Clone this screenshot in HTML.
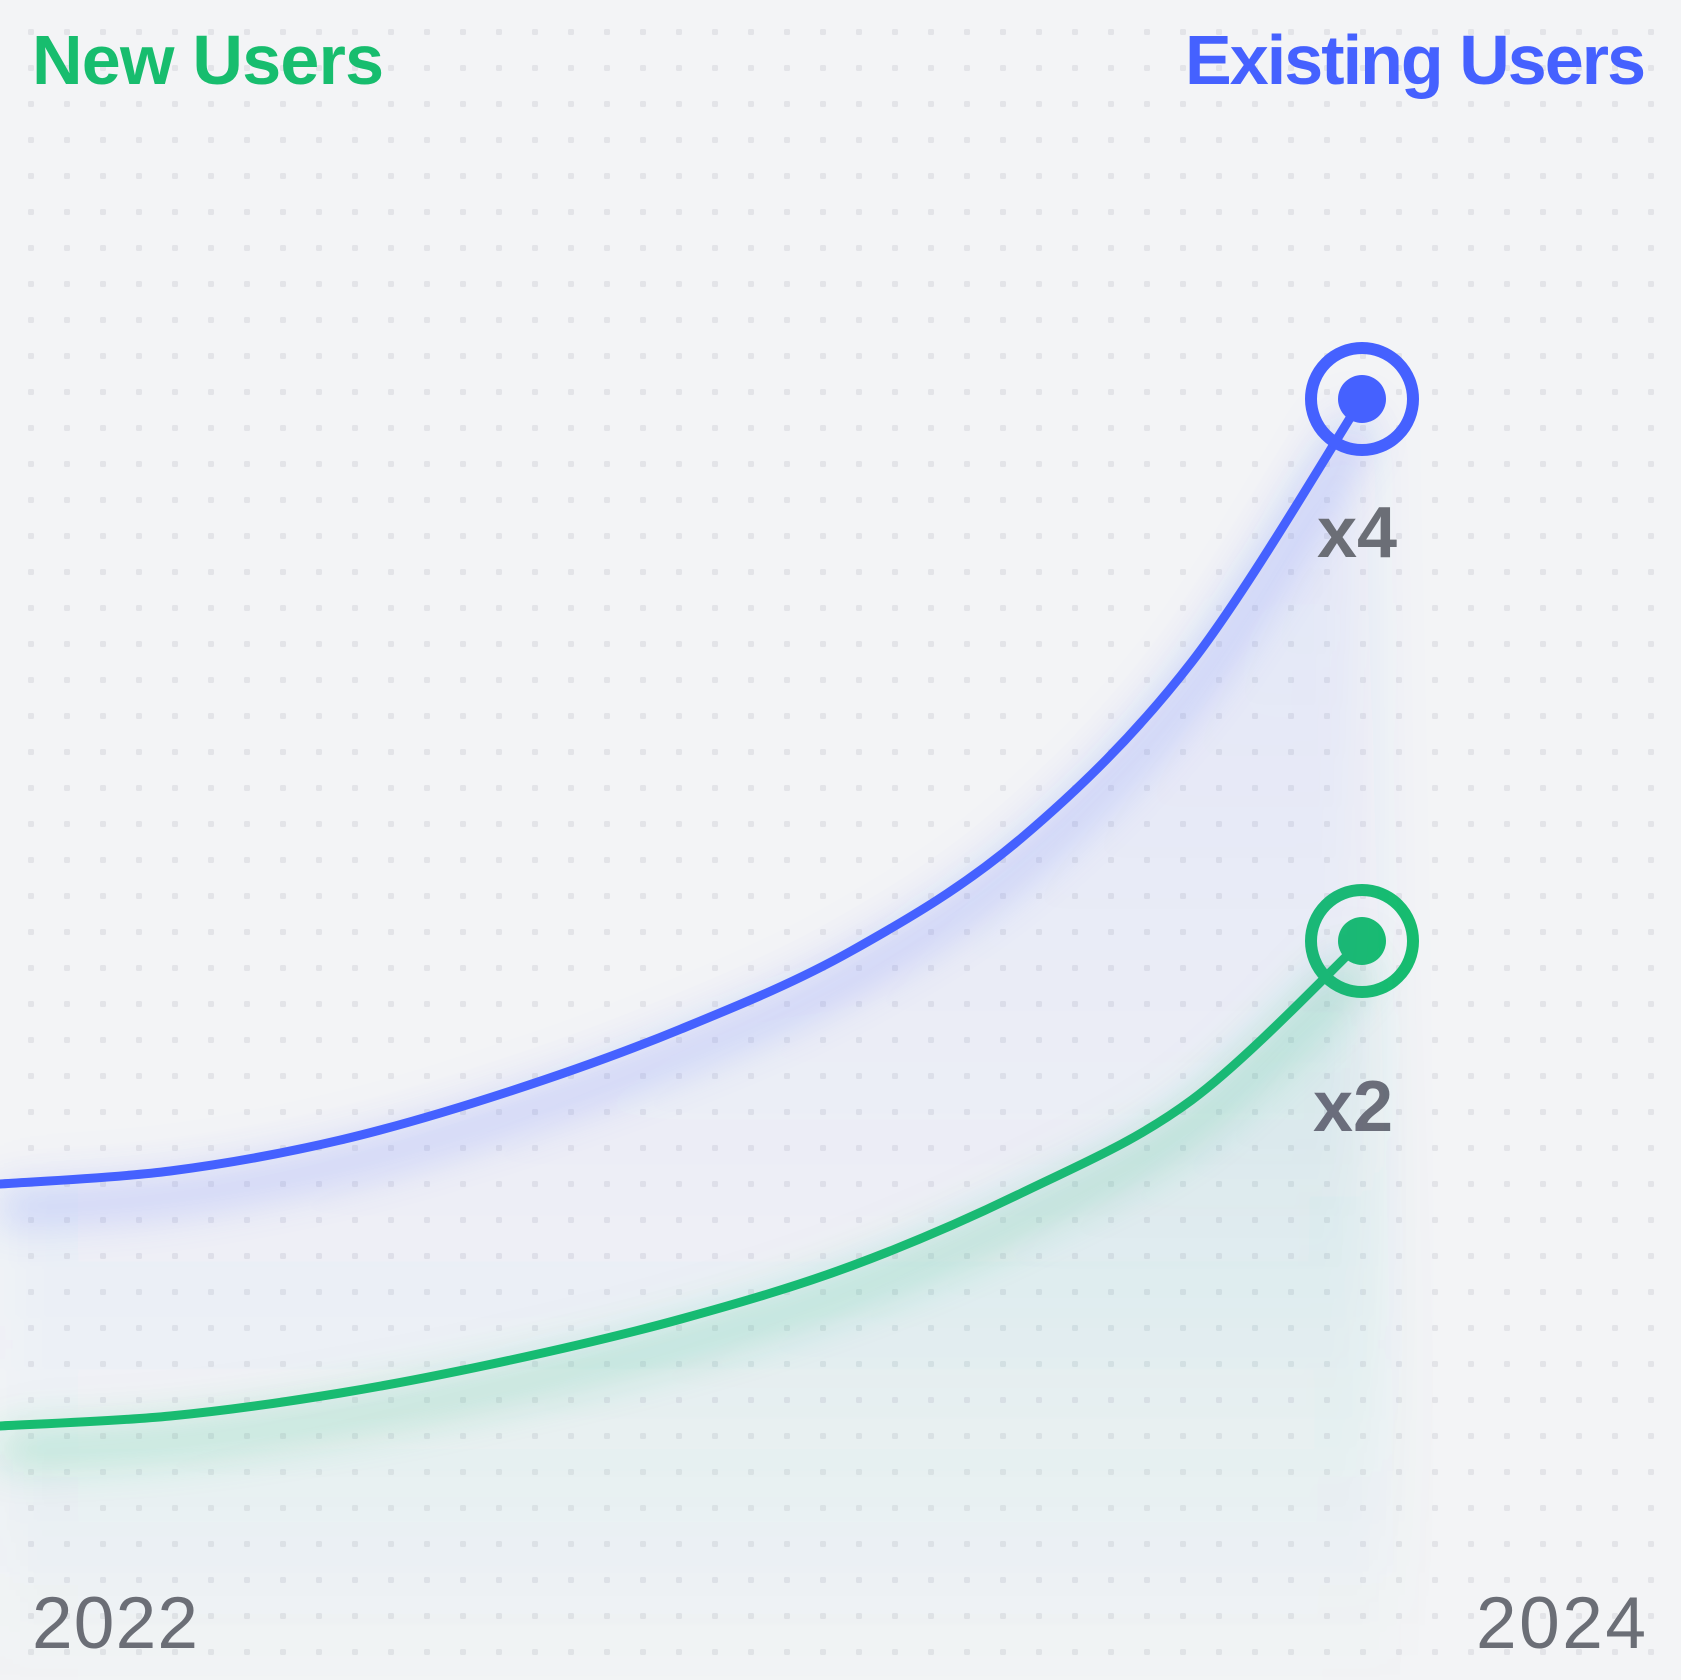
<!DOCTYPE html>
<html><head><meta charset="utf-8"><style>
html,body{margin:0;padding:0;background:#f3f4f6;}
svg{display:block}
text{font-family:"Liberation Sans",sans-serif;}
</style></head><body>
<svg id="chart" width="1681" height="1680" viewBox="0 0 1681 1680">
<defs>
<pattern id="dots" x="28" y="29" width="36" height="36" patternUnits="userSpaceOnUse"><rect width="6" height="6" rx="1.5" fill="#e3e4e8"/></pattern>
<filter id="blur" x="-20%" y="-20%" width="140%" height="160%"><feGaussianBlur stdDeviation="20"/></filter>
<filter id="blur2" x="-20%" y="-20%" width="140%" height="140%"><feGaussianBlur stdDeviation="30"/></filter>
<linearGradient id="gb" x1="0" y1="0" x2="0" y2="1"><stop offset="0" stop-color="#4561ff" stop-opacity="0.10"/><stop offset="1" stop-color="#4561ff" stop-opacity="0"/></linearGradient>
<linearGradient id="gg" x1="0" y1="0" x2="0" y2="1"><stop offset="0" stop-color="#17bd6e" stop-opacity="0.10"/><stop offset="1" stop-color="#17bd6e" stop-opacity="0"/></linearGradient>
</defs>
<rect width="1681" height="1680" fill="#f3f4f6"/>
<rect width="1681" height="1680" fill="url(#dots)"/>
<g id="plot"></g>
<text x="32" y="84" font-size="70" font-weight="bold" fill="#17bd6e" textLength="352">New Users</text>
<text x="1185" y="84" font-size="70" font-weight="bold" fill="#4561ff" textLength="461">Existing Users</text>
<text x="32" y="1648" font-size="73" fill="#6b6e76" textLength="166">2022</text>
<text x="1476" y="1648" font-size="73" fill="#6b6e76" textLength="170">2024</text>
</svg>
<script>
const xs = [0, 0.125, 0.25, 0.375, 0.5, 0.625, 0.75, 0.875, 1];
const existingUsers = [31.6, 32.9, 36.0, 40.9, 47.1, 54.9, 66.2, 83.8, 110.1];
const newUsers = [7.4, 8.4, 10.7, 14.0, 18.1, 23.4, 30.7, 40.0, 55.9];
const seriesLabels = ["x4", "x2"];
const xPos = t => t * 1362;
const yPos = v => 1500 - v * 10;
const NS = "http://www.w3.org/2000/svg";
const plot = document.getElementById("plot");
function pathD(vals){
  const p = xs.map((t,i)=>[xPos(t), yPos(vals[i])]);
  let d = "M"+p[0][0]+","+p[0][1];
  for(let i=0;i<p.length-1;i++){
    const p0=p[i-1]||p[i], p1=p[i], p2=p[i+1], p3=p[i+2]||p[i+1];
    const c1=[p1[0]+(p2[0]-p0[0])/6, p1[1]+(p2[1]-p0[1])/6];
    const c2=[p2[0]-(p3[0]-p1[0])/6, p2[1]-(p3[1]-p1[1])/6];
    d+=" C"+c1+" "+c2+" "+p2;
  }
  return d;
}
function el(tag, attrs){const e=document.createElementNS(NS,tag);for(const k in attrs)e.setAttribute(k,attrs[k]);plot.appendChild(e);return e;}
function drawSeries(vals, color, grad, name, label, lx, ly){
  const d = pathD(vals);
  const endX = xPos(xs[xs.length-1]), endY = yPos(vals[vals.length-1]);
  const area = el("path",{d: d+" L"+(endX+40)+",1700 L0,1700 Z", fill:"url(#"+grad+")", filter:"url(#blur2)"});
  
  
  const glow = el("path",{d:d, fill:"none", stroke:color, "stroke-width":36, opacity:0.2, filter:"url(#blur)", transform:"translate(0,24)"});
  
  
  const line = el("path",{d:d, fill:"none", stroke:color, "stroke-width":9, "stroke-linecap":"round"});
  
  
  const ring = el("circle",{cx:endX, cy:endY, r:51, fill:"none", stroke:color, "stroke-width":12});
  
  
  const dot = el("circle",{cx:endX, cy:endY, r:24, fill:color});
  
  
  const t = el("text",{x:endX+lx, y:endY+ly, "font-size":72, "font-weight":"bold", fill:"#6b6e76", "text-anchor":"middle"});
  t.textContent = label;
  
  
}
drawSeries(newUsers, "#17bd6e", "gg", "new-users", seriesLabels[1], -9, 190);
drawSeries(existingUsers, "#4561ff", "gb", "existing-users", seriesLabels[0], -5, 158);
</script>
</body></html>
